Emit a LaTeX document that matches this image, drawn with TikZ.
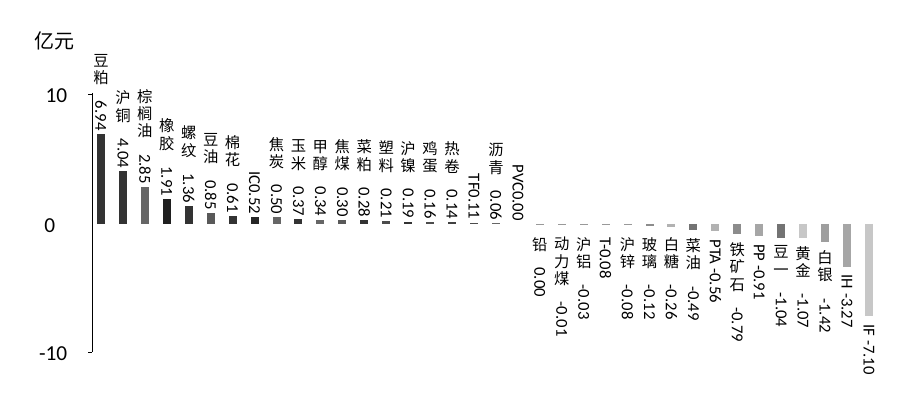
\documentclass[tikz,border=0pt]{standalone}
\usepackage{fontspec}
\setmainfont{Carlito}
\newfontfamily\cjk{Noto Sans CJK SC}
\begin{document}
\begin{tikzpicture}
  [x=0.75pt, y=-0.75pt,
   bar/.style = {line width=6pt},
   lab/.style = {inner sep=0pt, align=center, font=\cjk\fontsize{11.5}{13}\selectfont},
   tick/.style = {font=\fontsize{16}{18}\selectfont, anchor=east}]
  \useasboundingbox (0,0) rectangle (900,402);
  % axis
  \draw (92,93) -- (92,352);
  \draw (88,94) -- (92,94);
  \draw (88,352) -- (92,352);
  \node[tick] (t10) at (72,96) {10};
  \node[tick] (t0) at (60,226) {0};
  \node[tick] (tm10) at (72,354) {-10};
  \node[font=\cjk\fontsize{15}{18}\selectfont] (unit) at (55,41) {亿元};
  % bars and labels
  \foreach \c/\t/\v/\g [count=\i from 0] in {
      {豆\\粕\\}/6.94/6.94/80, {沪\\铜\\}/4.04/4.04/80, {棕\\榈\\油\\}/2.85/2.85/60, {橡\\胶\\}/1.91/1.91/88,
      {螺\\纹\\}/1.36/1.36/80, {豆\\油\\}/0.85/0.85/65, {棉\\花\\}/0.61/0.61/80, {}/IC0.52/0.52/85,
      {焦\\炭\\}/0.50/0.50/60, {玉\\米\\}/0.37/0.37/80, {甲\\醇\\}/0.34/0.34/60, {焦\\煤\\}/0.30/0.30/65,
      {菜\\粕\\}/0.28/0.28/80, {塑\\料\\}/0.21/0.21/70, {沪\\镍\\}/0.19/0.19/80, {鸡\\蛋\\}/0.16/0.16/70,
      {热\\卷\\}/0.14/0.14/75, {}/TF0.11/0.11/70, {沥\\青\\}/0.06/0.06/60, {}/PVC0.00/0.00/60,
      {铅\\}/0.00/-0.08/40, {动\\力\\煤\\}/-0.01/-0.08/40, {沪\\铝\\}/-0.03/-0.08/40, {}/T-0.08/-0.08/40,
      {沪\\锌\\}/-0.08/-0.08/40, {玻\\璃\\}/-0.12/-0.12/45, {白\\糖\\}/-0.26/-0.26/30, {菜\\油\\}/-0.49/-0.49/55,
      {}/PTA -0.56/-0.56/30, {铁\\矿\\石\\}/-0.79/-0.79/45, {}/PP -0.91/-0.91/35, {豆\\一\\}/-1.04/-1.04/55,
      {黄\\金\\}/-1.07/-1.07/22, {白\\银\\}/-1.42/-1.42/38, {}/IH -3.27/-3.27/35, {}/IF -7.10/-7.10/22}
  {
    \pgfmathsetmacro{\xx}{101+21.94*\i}
    \pgfmathsetmacro{\yy}{224-13*\v}
    \ifnum\i<20 \def\anc{south}\else\def\anc{north}\fi
    \pgfmathsetmacro{\ly}{\i<20 ? \yy-3 : max(\yy,229)+8}
    \draw[bar, black!\g] (\xx,224) -- (\xx,\yy);
    \node[lab, anchor=\anc] (l\i) at (\xx,\ly) {\c\rotatebox{-90}{\rmfamily\fontsize{12.5}{14}\selectfont\t}};
  }
\end{tikzpicture}
\end{document}
